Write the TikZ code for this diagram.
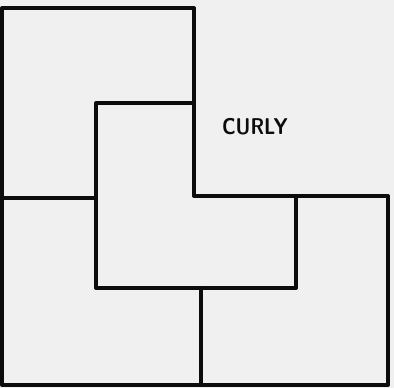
\documentclass[tikz,border=0pt]{standalone}
\usepackage{tikz}
\usetikzlibrary{positioning}
\definecolor{paper}{RGB}{240,240,240}
\definecolor{ink}{RGB}{12,12,12}
\tikzset{
  edge/.style={draw=ink,line width=2.3pt,line cap=round,line join=round},
  tag/.style={font=\sffamily\bfseries\fontsize{13}{13}\selectfont,text=ink,inner sep=0pt}
}
\begin{document}
\begin{tikzpicture}[x=0.02cm,y=-0.02cm]
  \useasboundingbox[fill=paper] (0,0) rectangle (394,388);
  % outer frame
  \draw[edge] (194,196) -- (194,8) -- (2,8) -- (2,385) -- (388,385) -- (388,196) -- cycle;
  % middle piece
  \draw[edge] (194,103) -- (96,103) -- (96,288) -- (296,288) -- (296,196);
  % splits
  \draw[edge] (2,198) -- (96,198);
  \draw[edge] (201,288) -- (201,385);
  \node[tag,xscale=0.85] (curly) at (255,127) {CURLY};
\end{tikzpicture}
\end{document}
